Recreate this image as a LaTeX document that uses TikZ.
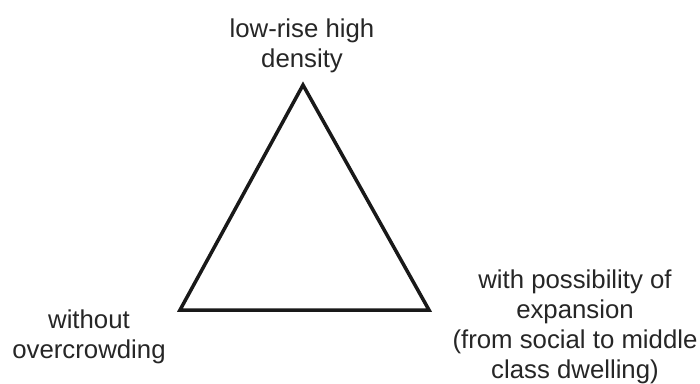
\documentclass[tikz,border=0pt]{standalone}
\usepackage{fontspec}
\setmainfont{Liberation Sans}
\tikzset{
  lbl/.style={align=center, font=\fontsize{22}{25.5}\selectfont, text=black!85, inner sep=0pt},
  edge/.style={line width=3pt, line join=miter, black!90}
}
\begin{document}
\begin{tikzpicture}[x=0.03cm, y=-0.03cm]
    % Khung hinh (700 x 383 px)
    \useasboundingbox (0,0) rectangle (700,383);

    % Cac dinh tam giac
    \coordinate (top) at (303,85);
    \coordinate (left) at (180,310);
    \coordinate (right) at (429,310);

    % Tam giac
    \draw[edge] (top) -- (left) -- (right) -- cycle;

    % Nhan
    \node[lbl] (density) at (302,46) {low-rise high\\density};
    \node[lbl] (crowd) at (89,337) {without\\overcrowding};
    \node[lbl] (expand) at (575,327) {with possibility of\\expansion\\(from social to middle\\class dwelling)};

\end{tikzpicture}
\end{document}
